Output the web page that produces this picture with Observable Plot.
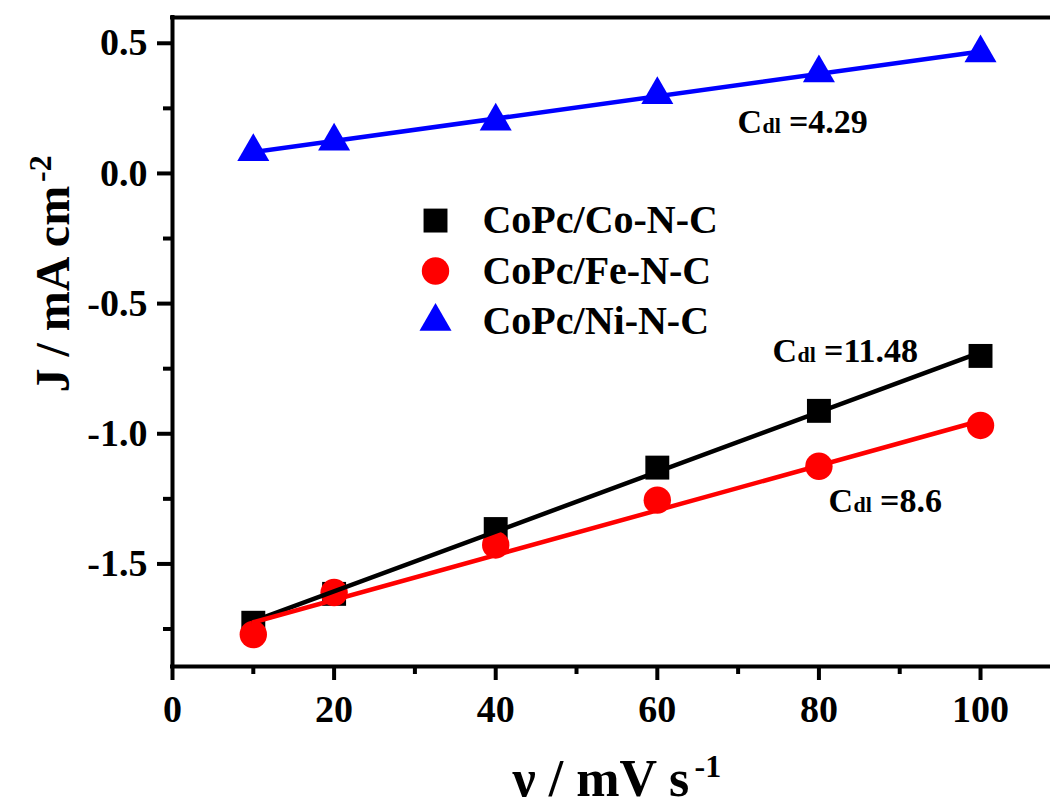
<!DOCTYPE html>
<html>
<head>
<meta charset="utf-8">
<script src="https://cdn.jsdelivr.net/npm/d3@7"></script>
<script src="https://cdn.jsdelivr.net/npm/@observablehq/plot@0.6"></script>
<style>
  html, body { margin: 0; padding: 0; background: #fff; overflow: hidden; }
</style>
</head>
<body>
<div id="chart"></div>
<script>
// Scan rates (mV s-1) and measured current densities (mA cm-2)
const scanRates = [10, 20, 40, 60, 80, 100];
const seriesNames = ["CoPc/Co-N-C", "CoPc/Fe-N-C", "CoPc/Ni-N-C"];
const jCoNC = [-1.726, -1.615, -1.366, -1.130, -0.912, -0.701];
const jFeNC = [-1.771, -1.610, -1.427, -1.255, -1.125, -0.968];
const jNiNC = [0.083, 0.124, 0.200, 0.302, 0.386, 0.463];

// Double-layer capacitance (slope of the linear fit, mF cm-2) and fit intercepts
const cdlValues = [11.48, 8.6, 4.29];
const fitIntercepts = [-1.835, -1.810, 0.039];

// Axis ticks
const xTicks = [0, 20, 40, 60, 80, 100];
const xMinorTicks = [10, 30, 50, 70, 90];
const yTicks = [-1.5, -1.0, -0.5, 0.0, 0.5];
const yMinorTicks = [-1.75, -1.25, -0.75, -0.25, 0.25];

// Appearance of each series
const seriesStyle = [
  {color: "#000000", symbol: "square", r: 13.5},
  {color: "#ff0000", symbol: "circle", r: 13.7},
  {color: "#0000ff", symbol: "triangle", r: 11.9}
];

const seriesValues = [jCoNC, jFeNC, jNiNC];
const points = seriesValues.map((vals, i) =>
  scanRates.map((v, k) => ({v, j: vals[k], series: seriesNames[i]})));
const fits = cdlValues.map((cdl, i) =>
  [10, 100].map(v => ({v, j: fitIntercepts[i] + (cdl / 1000) * v})));

const FONT = "'Liberation Serif', 'Times New Roman', serif";
const yDomain = [-1.894, 0.599];
const xDomain = [0, 108.66];

// Cdl annotation: "C" + smaller "dl" + " =value", baseline at (v, j)
function cdlLabel(value, v, j) {
  const at = [{v, j}];
  const common = {x: "v", y: "j", textAnchor: "start", lineAnchor: "bottom", fontWeight: "bold", fill: "#000"};
  return [
    Plot.text(at, {...common, text: () => "C", fontSize: 34}),
    Plot.text(at, {...common, text: () => "dl", fontSize: 22, dx: 25}),
    Plot.text(at, {...common, text: () => " =" + value, fontSize: 34, dx: 43})
  ];
}

// Legend rows inside the plot area
const legendX = 32.55, legendTextX = 38.36, legendTop = -0.181, legendStep = 0.194;
const legendRows = seriesNames.map((name, i) => ({name, i, v: legendX, tv: legendTextX, j: legendTop - i * legendStep}));

const marks = [
  // frame: left and bottom axes, top border
  Plot.ruleX([xDomain[0]], {stroke: "#000", strokeWidth: 4, strokeLinecap: "square"}),
  Plot.ruleY([yDomain[0]], {stroke: "#000", strokeWidth: 4, strokeLinecap: "square"}),
  Plot.ruleY([yDomain[1]], {stroke: "#000", strokeWidth: 4, strokeLinecap: "square"}),

  Plot.axisX({ticks: xTicks, tickSize: 14, strokeWidth: 4, tickPadding: 15, fontSize: 38, fontWeight: "bold",
    tickFormat: d => String(d), label: null}),
  Plot.axisX({ticks: xMinorTicks, tickSize: 8, strokeWidth: 4, tickFormat: () => "", label: null}),
  Plot.axisY({ticks: yTicks, tickSize: 15, strokeWidth: 4, tickPadding: 10, fontSize: 38, fontWeight: "bold",
    tickFormat: d => d.toFixed(1), label: null}),
  Plot.axisY({ticks: yMinorTicks, tickSize: 9, strokeWidth: 4, tickFormat: () => "", label: null}),

  // data symbols
  ...points.map((pts, i) => Plot.dot(pts, {x: "v", y: "j", symbol: seriesStyle[i].symbol, r: seriesStyle[i].r,
    fill: seriesStyle[i].color, stroke: "none"})),
  // linear fits
  ...fits.map((f, i) => Plot.line(f, {x: "v", y: "j", stroke: seriesStyle[i].color, strokeWidth: 4.5, strokeLinecap: "round"})),

  // legend
  ...legendRows.map(r => Plot.dot([r], {x: "v", y: "j", symbol: seriesStyle[r.i].symbol, r: seriesStyle[r.i].r,
    fill: seriesStyle[r.i].color, stroke: "none"})),
  Plot.text(legendRows, {x: "tv", y: "j", text: "name", textAnchor: "start", fontSize: 40, fontWeight: "bold", fill: "#000"}),

  // Cdl annotations
  ...cdlLabel(cdlValues[2], 69.92, 0.157),
  ...cdlLabel(cdlValues[0], 74.26, -0.726),
  ...cdlLabel(cdlValues[1], 81.19, -1.302),

  // axis titles
  Plot.text(["ν / mV s"], {frameAnchor: "bottom-left", text: d => d, textAnchor: "start", lineAnchor: "bottom",
    dx: 340, dy: 129, fontSize: 52, fontWeight: "bold", fill: "#000"}),
  Plot.text(["-1"], {frameAnchor: "bottom-left", text: d => d, textAnchor: "start", lineAnchor: "bottom",
    dx: 522, dy: 110, fontSize: 32, fontWeight: "bold", fill: "#000"}),
  Plot.text(["J / mA cm"], {frameAnchor: "left", text: d => d, textAnchor: "start", lineAnchor: "bottom",
    rotate: -90, dx: -104, dy: 50.5, fontSize: 48, fontWeight: "bold", fill: "#000"}),
  Plot.text(["-2"], {frameAnchor: "left", text: d => d, textAnchor: "start", lineAnchor: "bottom",
    rotate: -90, dx: -122, dy: -160, fontSize: 32, fontWeight: "bold", fill: "#000"})
];

const chart = Plot.plot({
  width: 1050,
  height: 805,
  marginLeft: 172,
  marginRight: 0,
  marginTop: 17,
  marginBottom: 139,
  x: {domain: xDomain},
  y: {domain: yDomain},
  style: {fontFamily: FONT, background: "#fff", color: "#000", overflow: "visible"},
  marks
});
document.getElementById("chart").appendChild(chart);
</script>
</body>
</html>
